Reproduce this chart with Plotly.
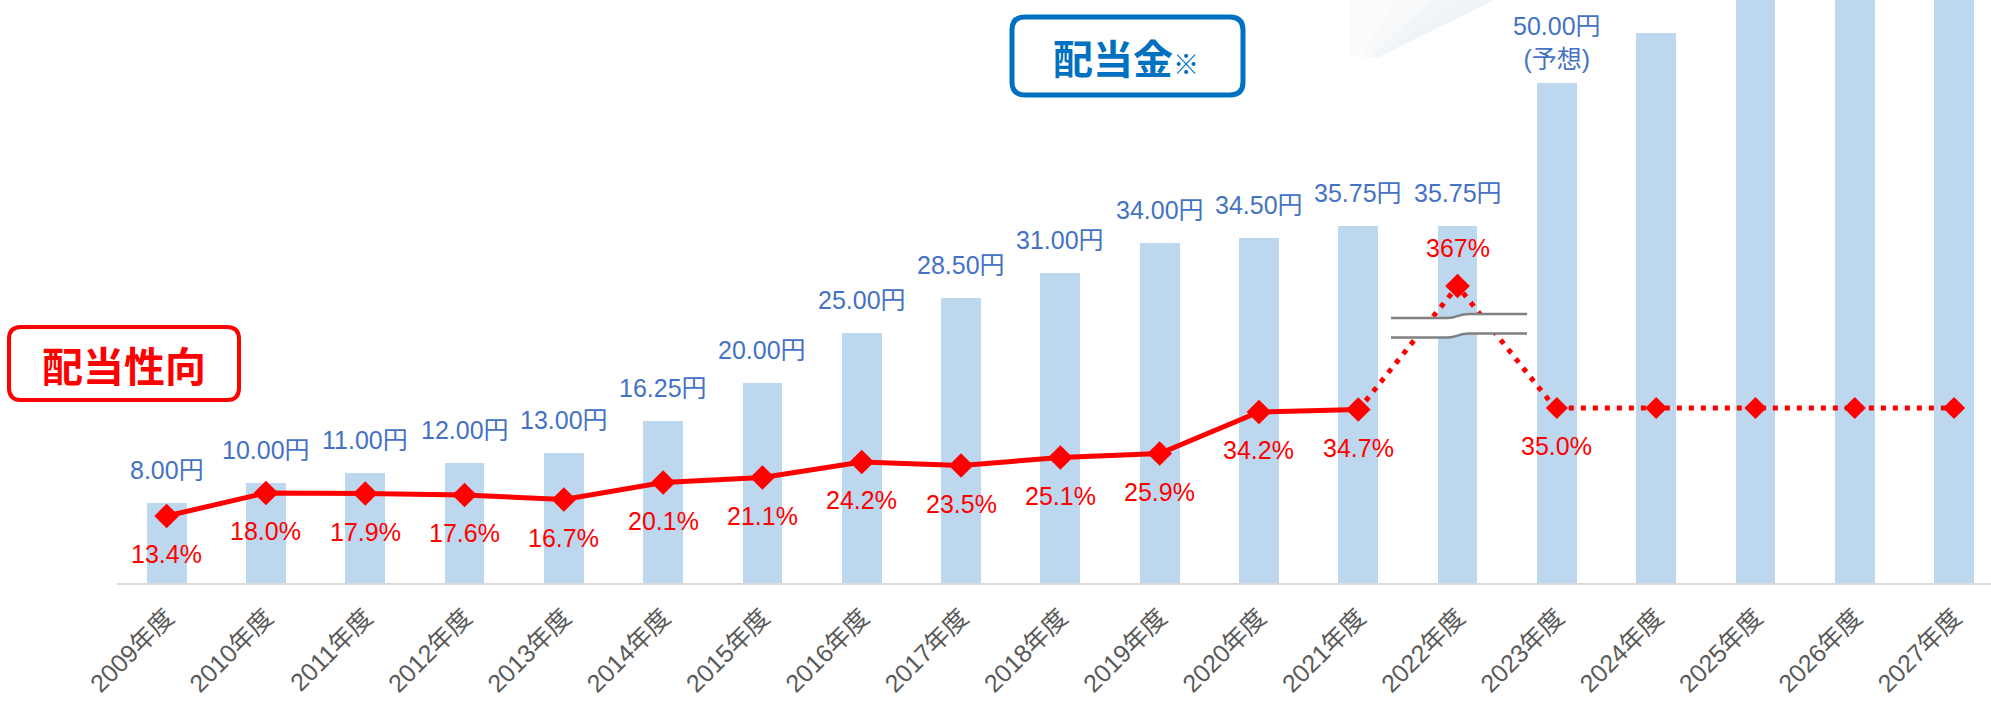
import plotly.graph_objects as go

# ---- data -------------------------------------------------------------
years = ["2009年度", "2010年度", "2011年度", "2012年度", "2013年度", "2014年度",
         "2015年度", "2016年度", "2017年度", "2018年度", "2019年度", "2020年度",
         "2021年度", "2022年度", "2023年度", "2024年度", "2025年度", "2026年度",
         "2027年度"]

# dividend per share (yen)
dividend = [8.00, 10.00, 11.00, 12.00, 13.00, 16.25, 20.00, 25.00, 28.50, 31.00,
            34.00, 34.50, 35.75, 35.75, 50.00, 55.00, 60.00, 65.00, 70.00]
dividend_labels = ["8.00円", "10.00円", "11.00円", "12.00円", "13.00円", "16.25円",
                   "20.00円", "25.00円", "28.50円", "31.00円", "34.00円", "34.50円",
                   "35.75円", "35.75円", "50.00円<br>(予想)", "", "", "", ""]

# payout ratio (%)
payout_actual = [13.4, 18.0, 17.9, 17.6, 16.7, 20.1, 21.1, 24.2, 23.5, 25.1,
                 25.9, 34.2, 34.7]            # 2009-2021
payout_2022 = 367.0                            # 2022 (shown above an axis break)
payout_target = [35.0, 35.0, 35.0, 35.0, 35.0]  # 2023-2027
payout_labels = ["13.4%", "18.0%", "17.9%", "17.6%", "16.7%", "20.1%", "21.1%",
                 "24.2%", "23.5%", "25.1%", "25.9%", "34.2%", "34.7%"]
payout_2022_label = "367%"
payout_target_labels = ["35.0%", "", "", "", ""]

# ---- styling ----------------------------------------------------------
BAR = "#BDD7EE"
RED = "#FF0000"
BLUE_TXT = "#4472C4"
BOX_BLUE = "#0070C0"
TICK = "#595959"
FONT = "Liberation Sans, Arial, Noto Sans CJK JP, sans-serif"
CJK_BOLD = "Noto Sans CJK JP, sans-serif"

W, H = 1991, 703
ML, MR, MT, MB = 117, 0, 0, 120
PW, PH = W - ML - MR, H - MT - MB

idx = list(range(len(years)))
n_act = len(payout_actual)
i2022 = n_act
i_tgt = list(range(n_act + 1, len(years)))


def pxx(x):
    return (x - ML) / PW


def pxy(y):
    return 1 - (y - MT) / PH


def rounded_rect(x0, y0, x1, y1, r):
    pts = lambda x, y: f"{pxx(x):.5f},{pxy(y):.5f}"
    return (f"M {pts(x0 + r, y0)} L {pts(x1 - r, y0)} Q {pts(x1, y0)} {pts(x1, y0 + r)} "
            f"L {pts(x1, y1 - r)} Q {pts(x1, y1)} {pts(x1 - r, y1)} "
            f"L {pts(x0 + r, y1)} Q {pts(x0, y1)} {pts(x0, y1 - r)} "
            f"L {pts(x0, y0 + r)} Q {pts(x0, y0)} {pts(x0 + r, y0)} Z")


fig = go.Figure()

# dividend bars
fig.add_trace(go.Bar(x=idx, y=dividend, width=0.4, marker=dict(color=BAR, line=dict(width=0)),
                     yaxis="y", hoverinfo="skip"))

# actual payout ratio line
fig.add_trace(go.Scatter(x=idx[:n_act], y=payout_actual, yaxis="y2", mode="lines+markers",
                         line=dict(color=RED, width=5),
                         marker=dict(symbol="diamond", size=19, color=RED)))

# dotted link through the 2022 value (own scale because of the axis break)
fig.add_trace(go.Scatter(x=[idx[n_act - 1], idx[i2022], idx[i2022 + 1]],
                         y=[payout_actual[-1], payout_2022, payout_target[0]],
                         yaxis="y3", mode="lines",
                         line=dict(color=RED, width=5, dash="5px,7px")))
fig.add_trace(go.Scatter(x=[idx[i2022]], y=[payout_2022], yaxis="y3", mode="markers",
                         marker=dict(symbol="diamond", size=19, color=RED)))

# target payout ratio
fig.add_trace(go.Scatter(x=i_tgt, y=payout_target, yaxis="y2", mode="lines+markers",
                         line=dict(color=RED, width=5, dash="5px,7px"),
                         marker=dict(symbol="diamond", size=17, color=RED)))

annotations = []
for i, (v, t) in enumerate(zip(dividend, dividend_labels)):
    if t:
        annotations.append(dict(x=i, y=v, xref="x", yref="y", text=t, showarrow=False,
                                yanchor="bottom", yshift=8 if "<br>" in t else 17,
                                font=dict(family=FONT, size=25, color=BLUE_TXT)))
for i, (v, t) in enumerate(zip(payout_actual, payout_labels)):
    annotations.append(dict(x=i, y=v, xref="x", yref="y2", text=t, showarrow=False,
                            yanchor="middle", yshift=-38,
                            font=dict(family=FONT, size=25, color=RED)))
annotations.append(dict(x=i2022, y=payout_2022, xref="x", yref="y3", text=payout_2022_label,
                        showarrow=False, yanchor="middle", yshift=38,
                        font=dict(family=FONT, size=25, color=RED)))
for i, v, t in zip(i_tgt, payout_target, payout_target_labels):
    if t:
        annotations.append(dict(x=i, y=v, xref="x", yref="y2", text=t, showarrow=False,
                                yanchor="middle", yshift=-38,
                                font=dict(family=FONT, size=25, color=RED)))

# legend-style title boxes
annotations.append(dict(x=pxx(1126), y=pxy(57), xref="paper", yref="paper", showarrow=False,
                        xanchor="center", yanchor="middle",
                        text="<b>配当金</b><span style='font-size:26px'><b>※</b></span>",
                        font=dict(family=CJK_BOLD, size=40, color=BOX_BLUE)))
annotations.append(dict(x=pxx(124), y=pxy(364), xref="paper", yref="paper", showarrow=False,
                        xanchor="center", yanchor="middle",
                        text="<b>配当性向</b>",
                        font=dict(family=CJK_BOLD, size=41, color=RED)))

shapes = [
    dict(type="path", xref="paper", yref="paper", path=rounded_rect(1012, 17, 1243, 95, 13),
         line=dict(color=BOX_BLUE, width=5), fillcolor="white", layer="above"),
    dict(type="path", xref="paper", yref="paper", path=rounded_rect(9, 327, 239, 400, 12),
         line=dict(color=RED, width=4), fillcolor="white", layer="above"),
]

# faint light streak near the top
for lx_top, lx_bot in [(1350, 1350), (1395, 1362), (1430, 1370), (1460, 1375)]:
    shapes.append(dict(type="path", xref="paper", yref="paper", layer="below",
                       path=(f"M {pxx(lx_top):.5f},{pxy(0):.5f} L {pxx(1494):.5f},{pxy(0):.5f} "
                             f"L {pxx(1379):.5f},{pxy(57):.5f} L {pxx(lx_bot):.5f},{pxy(57):.5f} Z"),
                       fillcolor="#D3DDEC", opacity=0.09, line=dict(width=0)))

# axis-break mark across the 2022 column
ul, ur, ll, lr = pxy(318), pxy(314), pxy(337.5), pxy(333.5)
xa, xb, xc, xd = 12.33, 12.9, 13.12, 13.70
shapes.append(dict(type="path", xref="x", yref="paper", layer="above",
                   path=(f"M {xa},{ul} L {xb},{ul} C 13.0,{ul} 13.0,{ur} {xc},{ur} L {xd},{ur} "
                         f"L {xd},{lr} L {xc},{lr} C 13.0,{lr} 13.0,{ll} {xb},{ll} L {xa},{ll} Z"),
                   fillcolor="white", line=dict(width=0)))
for a, b in [(ul, ur), (ll, lr)]:
    shapes.append(dict(type="path", xref="x", yref="paper", layer="above",
                       path=f"M {xa},{a} L {xb},{a} C 13.0,{a} 13.0,{b} {xc},{b} L {xd},{b}",
                       line=dict(color="#808080", width=2.5)))

hidden = dict(visible=False, showgrid=False, zeroline=False, fixedrange=True)

fig.update_layout(
    width=W, height=H,
    margin=dict(l=ML, r=MR, t=MT, b=MB, pad=0, autoexpand=False),
    paper_bgcolor="white", plot_bgcolor="white",
    showlegend=False,
    bargap=0,
    xaxis=dict(type="linear", range=[-0.5, -0.5 + PW / 99.3], tickmode="array",
               tickvals=idx, ticktext=years, tickangle=-45, ticklabelstandoff=8,
               tickfont=dict(family=FONT, size=25, color=TICK), automargin=False,
               showline=True, linecolor="#D9D9D9", linewidth=2, ticks="",
               showgrid=False, zeroline=False),
    yaxis=dict(range=[0, PH / 10.0], **hidden),
    yaxis2=dict(range=[0, PH / 5.0], overlaying="y", **hidden),
    yaxis3=dict(range=[-427.6, 1132.1], overlaying="y", **hidden),
    annotations=annotations,
    shapes=shapes,
)

fig.write_html("out.html")
